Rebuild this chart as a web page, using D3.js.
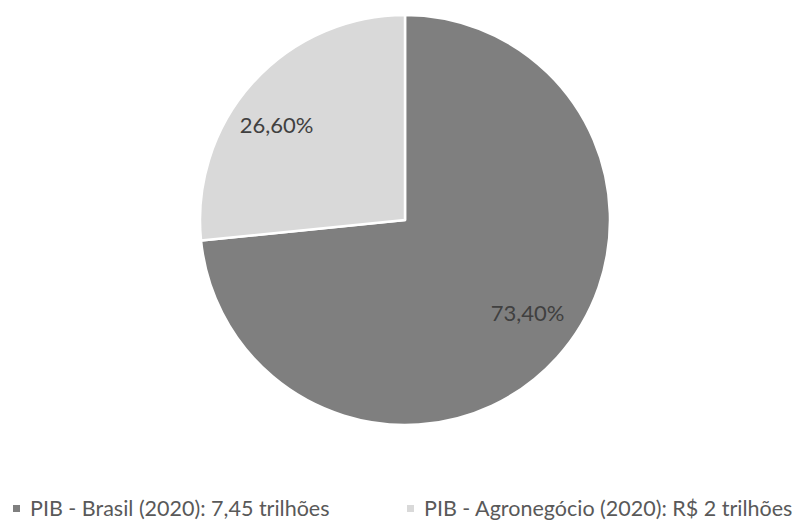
<!DOCTYPE html>
<html>
<head>
<meta charset="utf-8">
<script src="https://cdn.jsdelivr.net/npm/d3@7"></script>
<style>
  html, body { margin: 0; padding: 0; background: #fff; }
  svg { display: block; }
</style>
</head>
<body>
<svg id="chart" width="808" height="522"></svg>
<script>
// GDP shares, 2020
const categories = ["PIB - Brasil (2020): 7,45 trilhões", "PIB - Agronegócio (2020): R$ 2 trilhões"];
const shares = [73.40, 26.60];
const sliceLabels = ["73,40%", "26,60%"];
const colors = ["#7f7f7f", "#d9d9d9"];

const W = 808, H = 522;
const cx = 405, cy = 220, R = 205;
const FONT = "Lato, 'Open Sans', sans-serif";

const svg = d3.select("#chart");

const data = categories.map((c, i) => ({ name: c, value: shares[i], label: sliceLabels[i], color: colors[i] }));

const pie = d3.pie().value(d => d.value).sort(null);
const arcs = pie(data);
const arc = d3.arc().innerRadius(0).outerRadius(R);
const labelArc = d3.arc().innerRadius(R * 0.72).outerRadius(R * 0.72);
// small nudges so each percentage sits where the label placement puts it
const labelNudge = [[13, -6], [-19, 4]];

const g = svg.append("g").attr("transform", `translate(${cx},${cy})`);

g.selectAll("path.slice")
  .data(arcs)
  .join("path")
  .attr("class", "slice")
  .attr("d", arc)
  .attr("fill", d => d.data.color)
  .attr("stroke", "#ffffff")
  .attr("stroke-width", 2.5)
  .attr("stroke-linejoin", "round");

g.selectAll("text.pct")
  .data(arcs)
  .join("text")
  .attr("class", "pct")
  .attr("transform", (d, i) => {
    const [x, y] = labelArc.centroid(d);
    return `translate(${x + labelNudge[i][0]},${y + labelNudge[i][1]})`;
  })
  .attr("text-anchor", "middle")
  .attr("dy", "0.35em")
  .attr("font-family", FONT)
  .attr("font-size", 22)
  .attr("fill", "#404040")
  .text(d => d.data.label);

// legend
const legendX = [13, 407];
const legend = svg.append("g").attr("class", "legend");
const items = legend.selectAll("g.item")
  .data(data)
  .join("g")
  .attr("class", "item")
  .attr("transform", (d, i) => `translate(${legendX[i]},508)`);

items.append("rect")
  .attr("x", 0).attr("y", -3)
  .attr("width", 7).attr("height", 7)
  .attr("fill", d => d.color);

items.append("text")
  .attr("x", 17)
  .attr("dy", "0.35em")
  .attr("font-family", FONT)
  .attr("font-size", 21.5)
  .attr("fill", "#595959")
  .text(d => d.name);
</script>
</body>
</html>
